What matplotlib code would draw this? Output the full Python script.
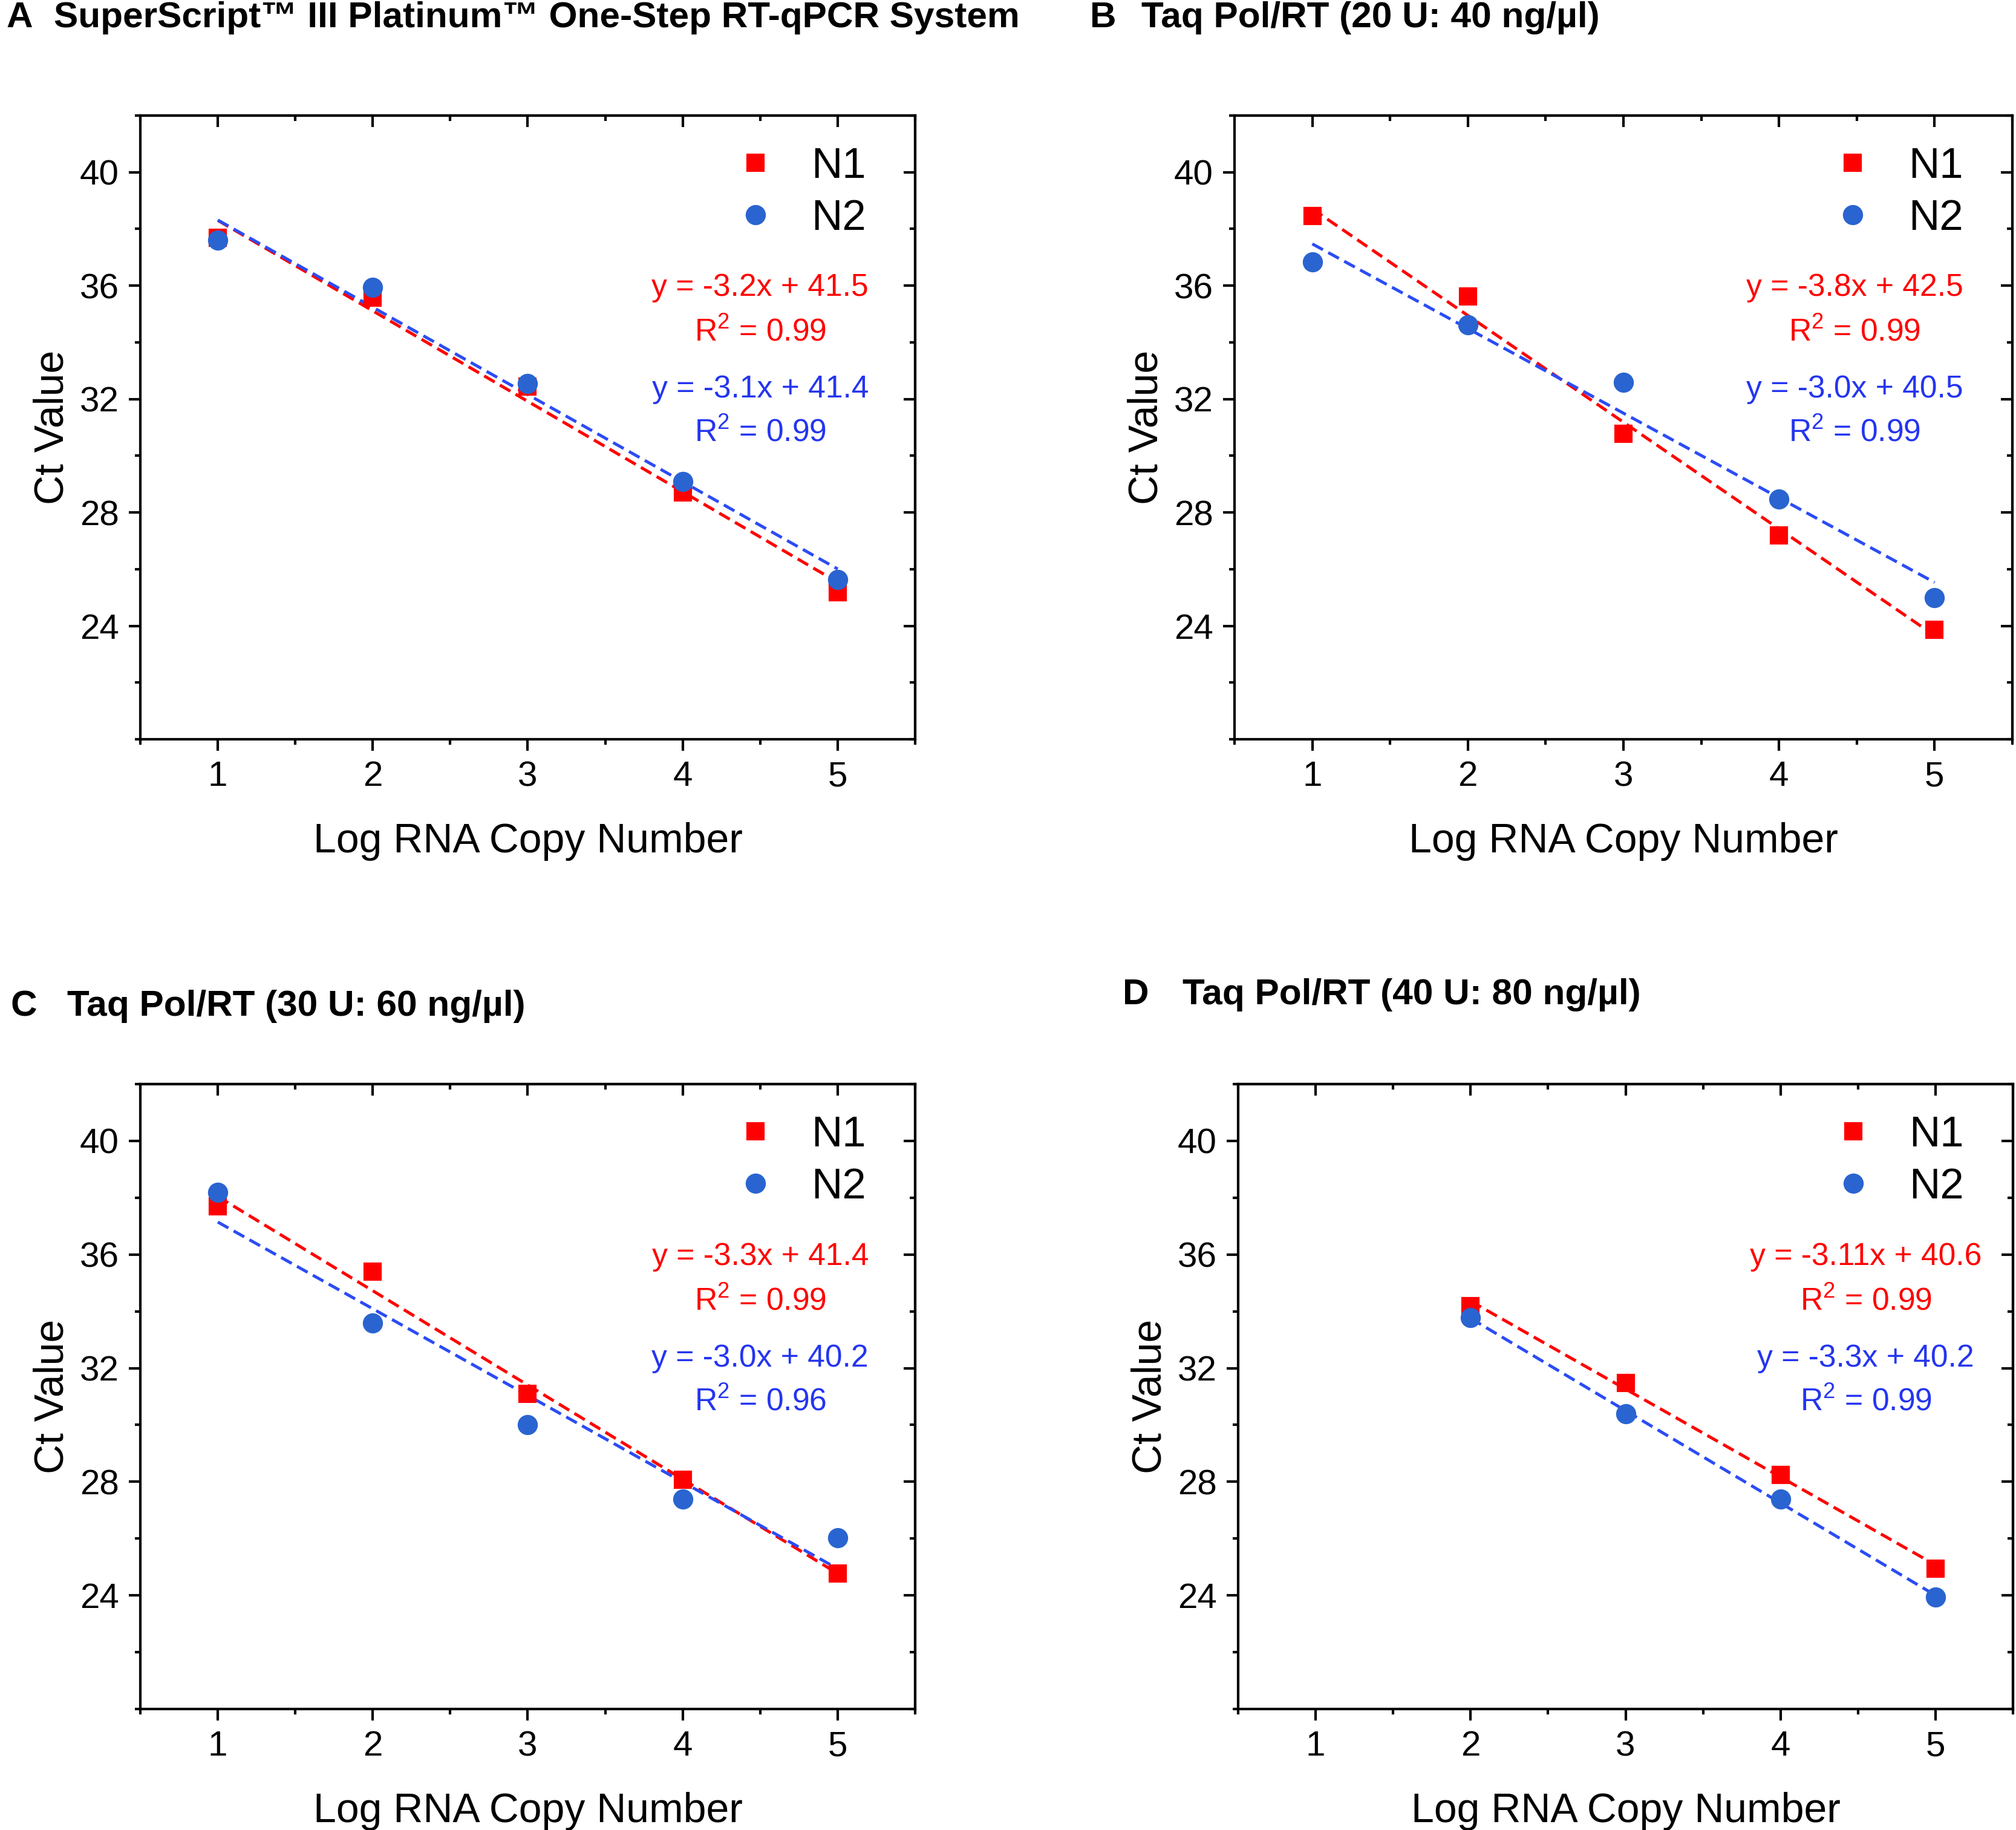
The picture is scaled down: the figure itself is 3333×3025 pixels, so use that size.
# Standard curves (Ct vs log RNA copy number) for four RT-qPCR conditions, N1 and N2 targets.

import numpy as np
import matplotlib.pyplot as plt
from matplotlib.ticker import MultipleLocator

plt.rcParams['font.family'] = 'Liberation Sans'
plt.rcParams['mathtext.fontset'] = 'custom'
plt.rcParams['mathtext.rm'] = 'Liberation Sans'

# log copy numbers
log_copies = [1, 2, 3, 4, 5]
log_copies_d = [2, 3, 4, 5]

# Ct values
a_n1 = [37.70, 35.57, 32.45, 28.70, 25.18]
a_n2 = [37.60, 35.93, 32.54, 29.10, 25.63]
b_n1 = [38.46, 35.62, 30.78, 27.20, 23.86]
b_n2 = [36.84, 34.62, 32.59, 28.47, 24.99]
c_n1 = [37.70, 35.39, 31.10, 28.07, 24.77]
c_n2 = [38.19, 33.58, 30.01, 27.39, 26.03]
d_n1 = [34.19, 31.48, 28.24, 24.95]
d_n2 = [33.78, 30.40, 27.38, 23.95]

panel_letters = ['A', 'B', 'C', 'D']
panel_titles = ['SuperScript\u2122 III Platinum\u2122 One-Step RT-qPCR System',
                'Taq Pol/RT (20 U: 40 ng/\u00b5l)',
                'Taq Pol/RT (30 U: 60 ng/\u00b5l)',
                'Taq Pol/RT (40 U: 80 ng/\u00b5l)']
n1_eqs = ['y = -3.2x + 41.5', 'y = -3.8x + 42.5', 'y = -3.3x + 41.4', 'y = -3.11x + 40.6']
n2_eqs = ['y = -3.1x + 41.4', 'y = -3.0x + 40.5', 'y = -3.0x + 40.2', 'y = -3.3x + 40.2']
n1_r2 = ['0.99', '0.99', '0.99', '0.99']
n2_r2 = ['0.99', '0.99', '0.96', '0.99']

RED = '#ff0000'
BLUE_MARK = '#2a64d0'
BLUE_LINE = '#2b4cf5'
BLUE_TEXT = '#2435f0'

W, H = 3333, 3025


def px_axes(left, top, right, bottom):
    # axes rectangle from pixel edges of the target image
    return [left / W, 1 - bottom / H, (right - left) / W, (bottom - top) / H]


def plot_panel(ax, x, n1, n2, eq1, eq2, r1, r2, eq_x):
    x = np.array(x)
    for y, col in ((n1, RED), (n2, BLUE_LINE)):
        k, b = np.polyfit(x, y, 1)
        xs = np.array([x.min(), x.max()])
        ax.plot(xs, k * xs + b, color=col, lw=1.2, ls=(0, (4, 2)), zorder=2)
    ax.plot(x, n1, 's', color=RED, ms=6.2, label='N1', zorder=3)
    ax.plot(x, n2, 'o', color=BLUE_MARK, ms=7, label='N2', zorder=4)

    ax.set_xlim(0.5, 5.5)
    ax.set_ylim(20, 42)
    ax.xaxis.set_major_locator(MultipleLocator(1))
    ax.xaxis.set_minor_locator(MultipleLocator(0.5))
    ax.set_yticks([24, 28, 32, 36, 40])
    ax.yaxis.set_minor_locator(MultipleLocator(2))
    ax.tick_params(which='both', width=1.0, labelsize=14, pad=4)
    ax.tick_params(which='major', length=4.5)
    ax.tick_params(which='minor', length=2.2)
    # left/bottom ticks outward, mirrored ticks on top/right
    ax.tick_params(axis='x', which='both', direction='out', top=False)
    ax.tick_params(axis='y', which='both', direction='out', right=False)
    sec_x = ax.secondary_xaxis('top')
    sec_x.xaxis.set_major_locator(MultipleLocator(1))
    sec_x.xaxis.set_minor_locator(MultipleLocator(0.5))
    sec_x.tick_params(which='both', direction='in', width=1.0, labeltop=False)
    sec_x.tick_params(which='major', length=4.5)
    sec_x.tick_params(which='minor', length=2.2)
    sec_x.spines['top'].set_linewidth(1.0)
    sec_y = ax.secondary_yaxis('right')
    sec_y.set_yticks([24, 28, 32, 36, 40])
    sec_y.yaxis.set_minor_locator(MultipleLocator(2))
    sec_y.tick_params(which='both', direction='in', width=1.0, labelright=False)
    sec_y.tick_params(which='major', length=4.5)
    sec_y.tick_params(which='minor', length=2.2)
    sec_y.spines['right'].set_linewidth(1.0)
    for s in ax.spines.values():
        s.set_linewidth(1.0)

    ax.set_xlabel('Log RNA Copy Number', fontsize=16.3, labelpad=11.5)
    ax.set_ylabel('Ct Value', fontsize=16.3, labelpad=3)

    ax.legend(loc='upper right', bbox_to_anchor=(0.937, 0.95), frameon=False,
              fontsize=17, handlelength=1.0, handletextpad=0.8,
              labelspacing=0.29, borderpad=0, borderaxespad=0)

    ax.text(eq_x, 0.724, eq1, color=RED, fontsize=12.4, ha='center', va='center',
            transform=ax.transAxes)
    ax.text(eq_x, 0.652, 'R$^2$ = ' + r1, color=RED, fontsize=12.4, ha='center',
            va='center', transform=ax.transAxes)
    ax.text(eq_x, 0.561, eq2, color=BLUE_TEXT, fontsize=12.4, ha='center', va='center',
            transform=ax.transAxes)
    ax.text(eq_x, 0.491, 'R$^2$ = ' + r2, color=BLUE_TEXT, fontsize=12.4, ha='center',
            va='center', transform=ax.transAxes)


def main():
    fig = plt.figure(figsize=(W / 300, H / 300), dpi=300)

    rects = [px_axes(232, 191, 1513, 1222),
             px_axes(2041, 191, 3327, 1222),
             px_axes(232, 1792, 1513, 2825),
             px_axes(2047, 1792, 3328, 2825)]
    xs = [log_copies, log_copies, log_copies, log_copies_d]
    n1s = [a_n1, b_n1, c_n1, d_n1]
    n2s = [a_n2, b_n2, c_n2, d_n2]
    eq_xs = [0.80, 0.797, 0.80, 0.81]

    for i in range(4):
        ax = fig.add_axes(rects[i])
        plot_panel(ax, xs[i], n1s[i], n2s[i], n1_eqs[i], n2_eqs[i],
                   n1_r2[i], n2_r2[i], eq_xs[i])

    # panel headings (letter, then title), pixel positions from the target
    letter_x = [11, 1802, 17, 1856]
    title_x = [89, 1887, 111, 1955]
    base_y = [45, 45, 1679, 1660]
    for i in range(4):
        fig.text(letter_x[i] / W, 1 - base_y[i] / H, panel_letters[i],
                 fontsize=14.5, fontweight='bold', va='baseline')
        fig.text(title_x[i] / W, 1 - base_y[i] / H, panel_titles[i],
                 fontsize=14.5, fontweight='bold', va='baseline')

    fig.savefig('out.png', dpi=300)


if __name__ == "__main__":
    main()
